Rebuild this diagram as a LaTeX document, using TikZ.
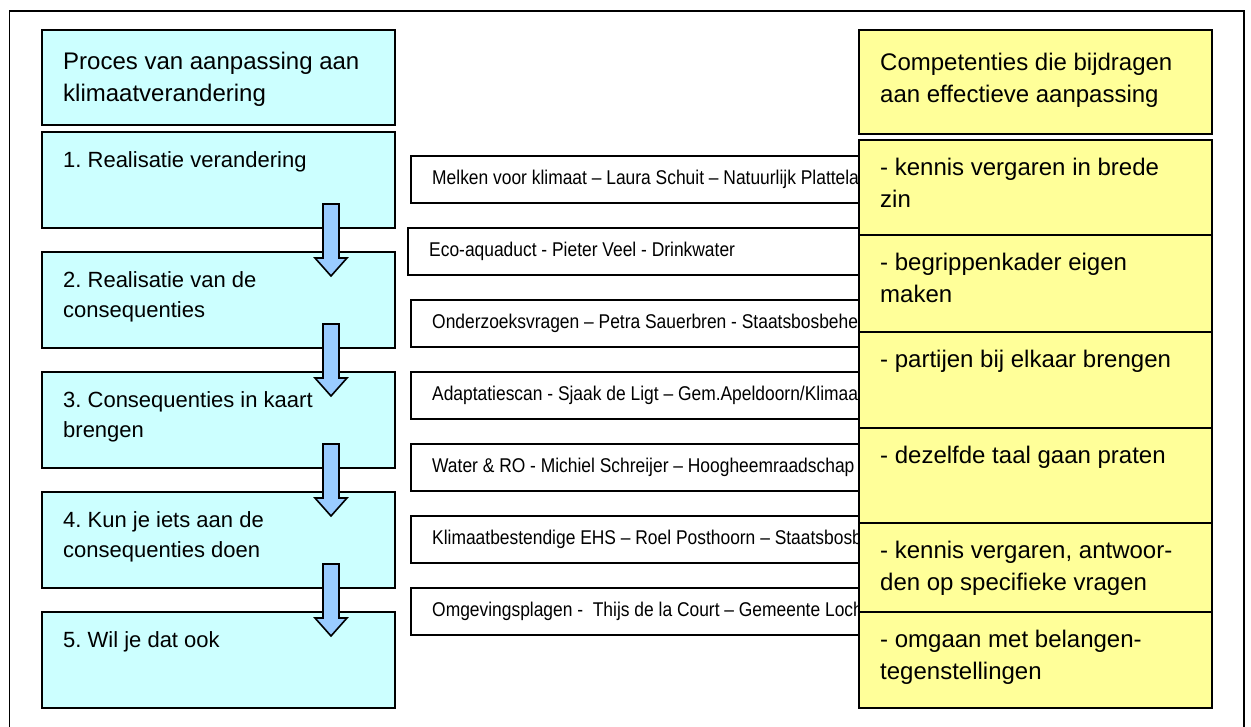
\documentclass[tikz,border=0pt]{standalone}
\usepackage{fontspec}
\setmainfont{Liberation Sans}
\newfontfamily\casefont[FakeStretch=0.875,Ligatures=TeX]{Liberation Sans}
\frenchspacing
\definecolor{stepfill}{HTML}{CCFFFF}
\definecolor{compfill}{HTML}{FFFF99}
\definecolor{arrowfill}{HTML}{99CCFF}
\newcommand{\firstline}{\rule{0pt}{20pt}}
\begin{document}
\begin{tikzpicture}[x=1pt,y=-1pt,
  boxline/.style={draw=black,line width=2pt},
  stepbox/.style={boxline,fill=stepfill},
  compbox/.style={boxline,fill=compfill},
  casebox/.style={boxline,fill=white},
  bigtext/.style={anchor=north west,inner sep=0pt,align=left,
    font=\fontsize{24}{32}\selectfont},
  steptext/.style={bigtext,font=\fontsize{22}{30}\selectfont},
  casetext/.style={anchor=west,inner sep=0pt,font=\casefont\fontsize{19.9}{22}\selectfont},
  flowarrow/.pic={
    \filldraw[fill=arrowfill,draw=black,line width=1.6pt,line join=miter]
      (-8,0) -- (-8,54) -- (-16,54) -- (0,72) -- (16,54) -- (8,54) -- (8,0) -- cycle;
  }]
\useasboundingbox (0,0) rectangle (1251,726);
\clip (0,0) rectangle (1251,726);

% outer frame
\draw[line width=1.5pt] (9.5,11) rectangle (1244,760);

% process column
\draw[stepbox] (42,30) rectangle (395,125);
\node[bigtext] (ph) at (63,49) {\firstline Proces van aanpassing aan\\klimaatverandering};
\foreach \i/\txt in {1/{1. Realisatie verandering},
                     2/{2. Realisatie van de\\consequenties},
                     3/{3. Consequenties in kaart\\brengen},
                     4/{4. Kun je iets aan de\\consequenties doen},
                     5/{5. Wil je dat ook}} {
  \pgfmathsetmacro\top{132+120*(\i-1)}
  \draw[stepbox] (42,\top) rectangle (395,\top+96);
  \node[steptext] (s\i) at (63,\top+15) {\firstline\txt};
}

% cases in the middle
\foreach \i/\xl/\txt in {
  1/411/{Melken voor klimaat -- Laura Schuit -- Natuurlijk Plattela},
  2/408/{Eco-aquaduct - Pieter Veel - Drinkwater},
  3/411/{Onderzoeksvragen -- Petra Sauerbren - Staatsbosbehe},
  4/411/{Adaptatiescan - Sjaak de Ligt -- Gem.Apeldoorn/Klimaa},
  5/411/{Water \& RO - Michiel Schreijer -- Hoogheemraadschap},
  6/411/{Klimaatbestendige EHS -- Roel Posthoorn -- Staatsbosb},
  7/411/{Omgevingsplagen -\ \ Thijs de la Court -- Gemeente Loch}} {
  \pgfmathsetmacro\top{156+72*(\i-1)}
  \draw[casebox] (\xl,\top) rectangle (900,\top+47);
  \node[casetext] (c\i) at (\xl+21,\top+23) {\txt};
}

% arrows between process steps
\foreach \i in {1,...,4} {
  \pic at (331,{204+120*(\i-1)}) {flowarrow};
}

% competences column
\draw[compbox] (859,30) rectangle (1212,134);
\node[bigtext] (kh) at (880,50) {\firstline Competenties die bijdragen\\aan effectieve aanpassing};
\foreach \i/\ya/\yb/\txt in {
  1/140/235/{- kennis vergaren in brede\\zin},
  2/235/332/{- begrippenkader eigen\\maken},
  3/332/428/{- partijen bij elkaar brengen},
  4/428/523/{- dezelfde taal gaan praten},
  5/523/612/{- kennis vergaren, antwoor-\\den op specifieke vragen},
  6/612/708/{- omgaan met belangen-\\tegenstellingen}} {
  \draw[compbox] (859,\ya) rectangle (1212,\yb);
  \node[bigtext] (k\i) at (880,\ya+15) {\firstline\txt};
}
\end{tikzpicture}
\end{document}
